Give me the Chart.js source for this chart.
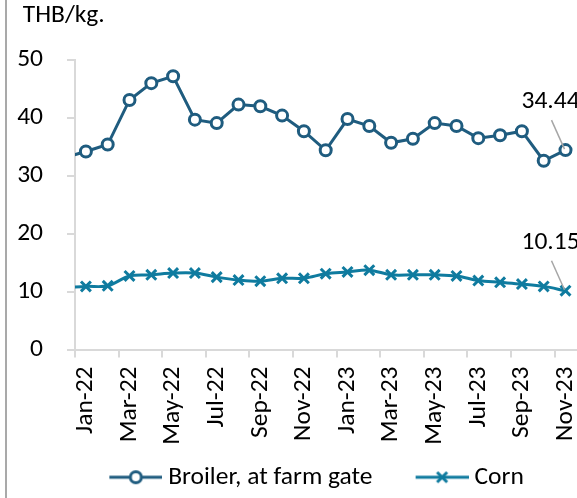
<!DOCTYPE html>
<html><head><meta charset="utf-8">
<script src="https://cdn.jsdelivr.net/npm/chart.js@4.4.1/dist/chart.umd.min.js"></script>
<style>
html,body{margin:0;padding:0;background:#fff;overflow:hidden;width:577px;height:498px;}
#wrap{position:relative;width:577px;height:498px;overflow:hidden;background:#fff;}
#c{position:absolute;left:0;top:0;}
#edge{position:absolute;left:5px;top:0;width:2px;height:498px;background:#a9a9a9;}
</style></head><body>
<div id="wrap"><canvas id="c" width="600" height="498" style="width:600px;height:498px"></canvas><div id="edge"></div></div>
<script>
// ---- data ----
const months = ['Dec-21','Jan-22','Feb-22','Mar-22','Apr-22','May-22','Jun-22','Jul-22','Aug-22','Sep-22','Oct-22','Nov-22','Dec-22',
                'Jan-23','Feb-23','Mar-23','Apr-23','May-23','Jun-23','Jul-23','Aug-23','Sep-23','Oct-23','Nov-23'];
const broiler = [33.1,34.2,35.4,43.1,46.0,47.2,39.7,39.1,42.3,42.0,40.4,37.7,34.4,
                 39.8,38.6,35.7,36.4,39.1,38.6,36.5,37.0,37.7,32.6,34.44];
const corn    = [10.7,10.9,11.0,12.7,12.9,13.2,13.2,12.5,12.0,11.8,12.3,12.3,13.1,
                 13.4,13.7,12.9,12.9,12.9,12.7,11.9,11.6,11.3,10.9,10.15];
const seriesNames = ['Broiler, at farm gate','Corn'];
const endLabels = ['34.44','10.15'];
const yTicks = [0,10,20,30,40,50];
const unitLabel = 'THB/kg.';

// ---- style ----
const FONT_FAMILY = 'Carlito, Calibri, Lato, sans-serif';
const FS = 25.5;
const C_BROILER = '#1f5c7f';
const C_CORN = '#0f7b9f';
const AXIS_GREY = '#d9d9d9';
const MONTH_PX = 21.8;
const PLOT_LEFT = 75;
const TITLE_LEFT = 22.7;
const PLOT_BOTTOM = 345.5;
const LEG_PAD = 10;
const LEG_BOX = 89.25 - LEG_PAD;

Chart.defaults.font.family = FONT_FAMILY;
Chart.defaults.font.size = FS;
Chart.defaults.color = '#000';

function legendImg(kind, color) {
  const W = Math.round(LEG_BOX + 13.5), H = 20;
  const c = document.createElement('canvas');
  c.width = W; c.height = H;
  const g = c.getContext('2d');
  const x0 = W - 53, cy = H / 2, cx = x0 + 26.5;
  g.strokeStyle = color; g.lineWidth = 3;
  g.beginPath(); g.moveTo(x0, cy); g.lineTo(W, cy); g.stroke();
  if (kind === 'circle') {
    g.beginPath(); g.arc(cx, cy, 5.5, 0, Math.PI * 2);
    g.fillStyle = '#fff'; g.fill(); g.stroke();
  } else {
    const r = 5;
    g.beginPath();
    g.moveTo(cx - r, cy - r); g.lineTo(cx + r, cy + r);
    g.moveTo(cx - r, cy + r); g.lineTo(cx + r, cy - r);
    g.stroke();
  }
  return c;
}
const legendIcons = [legendImg('circle', C_BROILER), legendImg('cross', C_CORN)];

const toPts = arr => arr.map((v, i) => ({x: i - 1, y: v}));

const endLabelPlugin = {
  id: 'endLabelPlugin',
  afterLayout(chart) {
    // indent the unit title like the reference
    if (chart.titleBlock) chart.titleBlock.left = TITLE_LEFT;
  },
  afterDatasetsDraw(chart) {
    const ctx = chart.ctx;
    chart.data.datasets.forEach((ds, di) => {
      const meta = chart.getDatasetMeta(di);
      const pt = meta.data[meta.data.length - 1];
      ctx.save();
      ctx.strokeStyle = '#a6a6a6'; ctx.lineWidth = 1.5;
      ctx.beginPath(); ctx.moveTo(pt.x - 14, pt.y - 30); ctx.lineTo(pt.x - 1, pt.y - 1); ctx.stroke();
      ctx.fillStyle = '#000';
      ctx.font = FS + 'px ' + FONT_FAMILY;
      ctx.textAlign = 'left'; ctx.textBaseline = 'alphabetic';
      ctx.fillText(endLabels[di], pt.x - 44, pt.y - 42);
      ctx.restore();
    });
  }
};

const xTickVals = [];
for (let v = -0.5; v <= 21.5; v += 2) xTickVals.push(v);

const chart = new Chart(document.getElementById('c'), {
  type: 'line',
  data: {
    datasets: [
      {
        label: seriesNames[0], data: toPts(broiler),
        borderColor: C_BROILER, borderWidth: 3, tension: 0,
        pointStyle: 'circle', pointRadius: 5.5, pointBorderWidth: 3,
        pointBackgroundColor: '#fff', pointBorderColor: C_BROILER,
        clip: 0
      },
      {
        label: seriesNames[1], data: toPts(corn),
        borderColor: C_CORN, borderWidth: 3, tension: 0.35,
        pointStyle: 'crossRot', pointRadius: 7, pointBorderWidth: 3,
        pointBackgroundColor: C_CORN, pointBorderColor: C_CORN,
        clip: 0
      }
    ]
  },
  options: {
    responsive: false,
    animation: false,
    devicePixelRatio: 1,
    layout: { padding: { left: 0, right: 0, top: 0, bottom: -2 } },
    plugins: {
      tooltip: { enabled: false },
      title: {
        display: true, text: unitLabel, align: 'start', color: '#000',
        font: { size: FS, weight: 'normal' }, padding: { top: 0, bottom: 29.4 }
      },
      legend: {
        position: 'bottom', align: 'center',
        labels: {
          usePointStyle: true, pointStyleWidth: LEG_BOX, padding: LEG_PAD,
          color: '#000', font: { size: FS },
          generateLabels: (ch) => ch.data.datasets.map((ds, i) => ({
            text: ds.label, pointStyle: legendIcons[i], datasetIndex: i,
            hidden: false, lineWidth: 0, strokeStyle: 'transparent', fillStyle: 'transparent', fontColor: '#000'
          }))
        }
      }
    },
    scales: {
      x: {
        type: 'linear', min: -0.5, max: 23.5,
        afterBuildTicks: (s) => { s.ticks = xTickVals.map(v => ({value: v})); },
        afterFit: (s) => { s.height = s.chart.height - 2 - s.chart.legend.height - PLOT_BOTTOM; },
        ticks: {
          autoSkip: false, minRotation: 90, maxRotation: 90, padding: 9,
          labelOffset: MONTH_PX / 2, color: '#000', font: { size: FS },
          callback: (v) => months[Math.round(v + 0.5) + 1] || ''
        },
        grid: { drawOnChartArea: false, drawTicks: true, tickLength: 8, color: AXIS_GREY, lineWidth: 2 },
        border: { display: true, color: AXIS_GREY, width: 2 }
      },
      y: {
        min: 0, max: 50,
        afterBuildTicks: (s) => { s.ticks = yTicks.map(v => ({value: v})); },
        afterFit: (s) => { s.width = PLOT_LEFT; },
        ticks: { padding: 24, color: '#000', font: { size: FS } },
        grid: { drawOnChartArea: false, drawTicks: true, tickLength: 8, color: AXIS_GREY, lineWidth: 2 },
        border: { display: true, color: AXIS_GREY, width: 2 }
      }
    }
  },
  plugins: [endLabelPlugin]
});
// fix x range so that one month spans MONTH_PX pixels
const ca = chart.chartArea;
chart.options.scales.x.max = -0.5 + (ca.right - ca.left) / MONTH_PX;
chart.update('none');
</script>
</body></html>
